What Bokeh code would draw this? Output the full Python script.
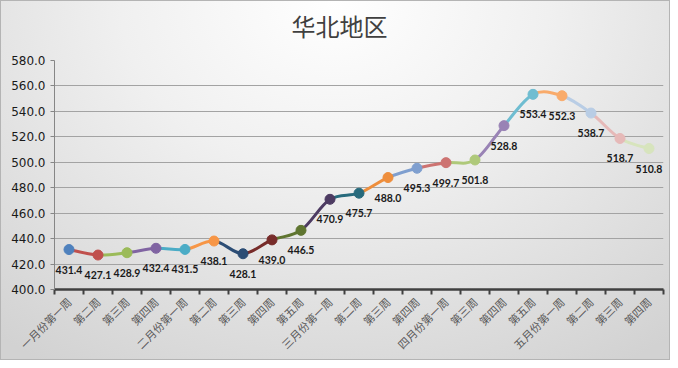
import math
from bokeh.plotting import figure
from bokeh.models import FixedTicker, NumeralTickFormatter, ColumnDataSource, Title
from bokeh.core.properties import value
from bokeh.embed import file_html
from bokeh.resources import INLINE

title_text = "华北地区"
week_labels = ["一月份第一周", "第二周", "第三周", "第四周",
               "二月份第一周", "第二周", "第三周", "第四周", "第五周",
               "三月份第一周", "第二周", "第三周", "第四周",
               "四月份第一周", "第三周", "第四周", "第五周",
               "五月份第一周", "第二周", "第三周", "第四周"]
prices = [431.4, 427.1, 428.9, 432.4, 431.5, 438.1, 428.1, 439.0, 446.5,
          470.9, 475.7, 488.0, 495.3, 499.7, 501.8, 528.8, 553.4, 552.3,
          538.7, 518.7, 510.8]
point_colors = ["#4F81BD", "#C0504D", "#9BBB59", "#8064A2", "#4BACC6", "#F79646",
                "#2C4D75", "#772C2A", "#5F7530", "#4D3B62", "#276A7C", "#EE8E3C",
                "#7F9FCF", "#CD7371", "#AFC97A", "#9983B5", "#6FBDD1", "#F9AB6B",
                "#B9CDE5", "#E6B9B8", "#D7E4BD"]
y_ticks = [400, 420, 440, 460, 480, 500, 520, 540, 560, 580]

n = len(prices)
xs = list(range(n))

p = figure(width=670, height=360, output_backend="svg", toolbar_location=None,
           x_range=(-0.5, n - 0.5), y_range=(400, 580),
           min_border_left=54, min_border_right=7, min_border_top=58, min_border_bottom=71)

p.styles = {"background": "radial-gradient(ellipse 80% 120% at 50% 0%, #ffffff 0%, #f0f0f0 40%, #d2d2d2 100%)",
            "box-shadow": "inset 0 0 0 1px #b4b4b4"}
p.border_fill_color = None
p.background_fill_color = None
p.outline_line_color = None

# spacer between title and frame, then the title itself
p.add_layout(Title(text=" ", text_font_size="1px"), "above")
p.add_layout(Title(text=title_text, align="left", offset=237, text_font="Noto Sans CJK SC",
                   text_font_size="24px", text_line_height=1.0, text_font_style="normal",
                   text_color="#404040"), "above")

# smooth (Catmull-Rom style) segments, each coloured like its end point
x0, y0, x1, y1, cx0, cy0, cx1, cy1, seg_cols = [], [], [], [], [], [], [], [], []
for i in range(n - 1):
    pa = (xs[max(i - 1, 0)], prices[max(i - 1, 0)])
    pb = (xs[i], prices[i])
    pc = (xs[i + 1], prices[i + 1])
    pd = (xs[min(i + 2, n - 1)], prices[min(i + 2, n - 1)])
    x0.append(pb[0]); y0.append(pb[1]); x1.append(pc[0]); y1.append(pc[1])
    cx0.append(pb[0] + (pc[0] - pa[0]) / 6); cy0.append(pb[1] + (pc[1] - pa[1]) / 6)
    cx1.append(pc[0] - (pd[0] - pb[0]) / 6); cy1.append(pc[1] - (pd[1] - pb[1]) / 6)
    seg_cols.append(point_colors[i + 1])

seg = ColumnDataSource(dict(x0=x0, y0=y0, x1=x1, y1=y1, cx0=cx0, cy0=cy0, cx1=cx1, cy1=cy1, c=seg_cols))
p.bezier(x0="x0", y0="y0", x1="x1", y1="y1", cx0="cx0", cy0="cy0", cx1="cx1", cy1="cy1",
         line_color="c", line_width=3, source=seg)

pts = ColumnDataSource(dict(x=xs, y=prices, c=point_colors, t=[f"{v:.1f}" for v in prices]))
p.scatter("x", "y", size=10, fill_color="c", line_color="c", source=pts)
p.text("x", "y", text="t", source=pts, text_align="center", text_baseline="middle",
       y_offset=20, text_font=value("Lato"), text_font_style="bold", text_font_size="10.5px",
       text_color="#1a1a1a")

# axes
p.xgrid.grid_line_color = None
p.ygrid.grid_line_color = "#a3a3a3"
p.ygrid.grid_line_width = 1

p.yaxis.ticker = FixedTicker(ticks=y_ticks)
p.yaxis.formatter = NumeralTickFormatter(format="0.0")
p.yaxis.axis_line_color = "#868686"
p.yaxis.major_tick_line_color = "#868686"
p.yaxis.major_tick_out = 4
p.yaxis.major_tick_in = 0
p.yaxis.minor_tick_line_color = None
p.yaxis.major_label_text_font = "DejaVu Sans"
p.yaxis.major_label_text_font_size = "12px"
p.yaxis.major_label_text_color = "#1a1a1a"
p.yaxis.major_label_standoff = 5

p.xaxis.ticker = FixedTicker(ticks=xs, minor_ticks=[i - 0.5 for i in range(n + 1)])
p.xaxis.major_label_overrides = {i: lab for i, lab in enumerate(week_labels)}
p.xaxis.major_label_orientation = math.pi / 4
p.xaxis.major_tick_line_color = None
p.xaxis.minor_tick_line_color = "#404040"
p.xaxis.minor_tick_line_width = 2
p.xaxis.minor_tick_out = 5
p.xaxis.minor_tick_in = 0
p.xaxis.axis_line_color = "#404040"
p.xaxis.axis_line_width = 2.5
p.xaxis.major_label_text_font = "Noto Sans CJK SC"
p.xaxis.major_label_text_font_size = "11px"
p.xaxis.major_label_text_color = "#595959"
p.xaxis.major_label_standoff = 4

open("out.html", "w").write(file_html(p, INLINE))
